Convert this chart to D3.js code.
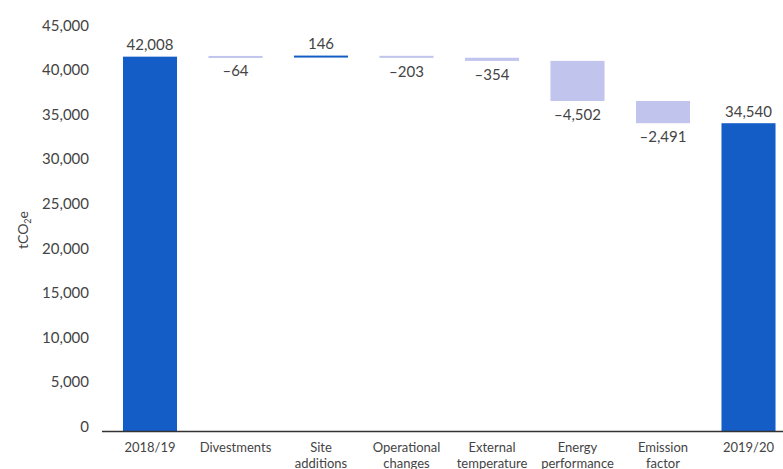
<!DOCTYPE html>
<html>
<head>
<meta charset="utf-8">
<script src="https://cdn.jsdelivr.net/npm/d3@7"></script>
<style>
  html, body { margin: 0; padding: 0; background: #fff; }
  svg text { font-family: Lato, "Open Sans", sans-serif; fill: #444; }
</style>
</head>
<body>
<svg id="chart" width="783" height="469"></svg>
<script>
// Carbon footprint bridge, tCO2e
const categories = [
  ["2018/19"],
  ["Divestments"],
  ["Site", "additions"],
  ["Operational", "changes"],
  ["External", "temperature"],
  ["Energy", "performance"],
  ["Emission", "factor"],
  ["2019/20"]
];
const values = [42008, -64, 146, -203, -354, -4502, -2491, 34540];
const isTotal = [true, false, false, false, false, false, false, true];
const yTicks = [0, 5000, 10000, 15000, 20000, 25000, 30000, 35000, 40000, 45000];

const svg = d3.select("#chart");
const keys = categories.map(c => c.join(" "));

const x = d3.scaleBand()
  .domain(keys)
  .range([107.25, 791.25])
  .paddingInner(0.368)
  .paddingOuter(0.184);

const y = d3.scaleLinear().domain([0, 45000]).range([431, 30]);

// running totals for each step of the bridge
let running = 0;
const steps = values.map((v, i) => {
  let start, end;
  if (isTotal[i]) { start = 0; end = v; running = v; }
  else { start = running; end = running + v; running = end; }
  return { key: keys[i], value: v, start, end, total: isTotal[i] };
});

const fmt = d3.format(",");
const darkBlue = "#155dc6";
const lavender = "#c1c4ed";

// y axis labels
svg.append("g").selectAll("text")
  .data(yTicks)
  .join("text")
  .attr("x", 89)
  .attr("y", d => y(d) - 4.5)
  .attr("dy", "0.35em")
  .attr("text-anchor", "end")
  .attr("font-size", 15)
  .text(d => fmt(d));

// axis title
const title = svg.append("text")
  .attr("transform", "translate(28,230) rotate(-90)")
  .attr("text-anchor", "middle")
  .attr("font-size", 14);
title.append("tspan").text("tCO");
title.append("tspan").attr("font-size", 9).attr("dy", 3).text("2");
title.append("tspan").attr("dy", -3).text("e");

// bars
svg.append("g").selectAll("rect")
  .data(steps)
  .join("rect")
  .attr("x", d => x(d.key))
  .attr("width", x.bandwidth())
  .attr("y", d => {
    const top = y(Math.max(d.start, d.end));
    const h = Math.abs(y(d.start) - y(d.end));
    return h < 2 ? top - (2 - h) / 2 : top;
  })
  .attr("height", d => Math.max(2, Math.abs(y(d.start) - y(d.end))))
  .attr("fill", d => (d.total || d.value > 0) ? darkBlue : lavender);

// value labels
svg.append("g").selectAll("text")
  .data(steps)
  .join("text")
  .attr("x", d => x(d.key) + x.bandwidth() / 2)
  .attr("y", d => d.value >= 0
    ? y(Math.max(d.start, d.end)) - 6.5
    : y(Math.min(d.start, d.end)) + 19)
  .attr("text-anchor", "middle")
  .attr("font-size", 15)
  .text(d => (d.value < 0 ? "–" : "") + fmt(Math.abs(d.value)));

// baseline
svg.append("line")
  .attr("x1", 102).attr("x2", 783)
  .attr("y1", y(0) + 0.5).attr("y2", y(0) + 0.5)
  .attr("stroke", "#333")
  .attr("stroke-width", 1.5);

// category labels
const cat = svg.append("g").selectAll("text")
  .data(categories)
  .join("text")
  .attr("x", (d, i) => x(keys[i]) + x.bandwidth() / 2)
  .attr("y", 452)
  .attr("text-anchor", "middle")
  .attr("font-size", 13);
cat.selectAll("tspan")
  .data(d => d)
  .join("tspan")
  .attr("x", function () { return d3.select(this.parentNode).attr("x"); })
  .attr("dy", (d, i) => i === 0 ? 0 : 15.5)
  .text(d => d);
</script>
</body>
</html>
